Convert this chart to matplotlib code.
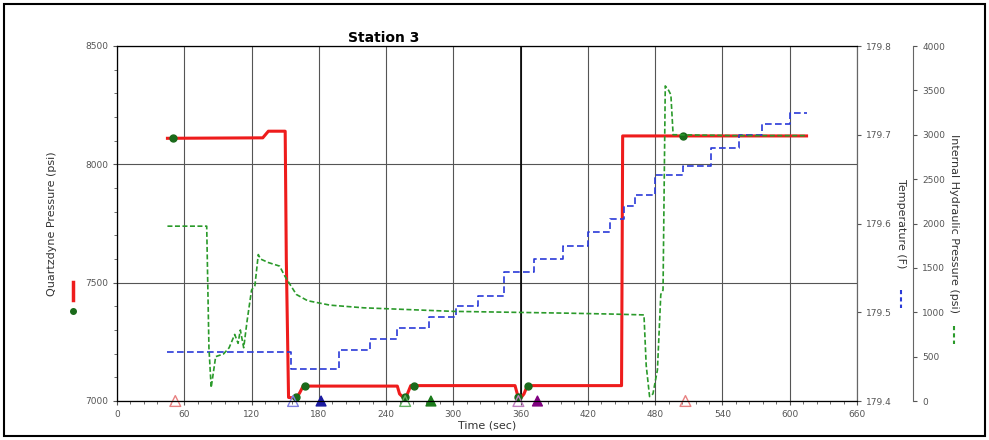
import matplotlib
matplotlib.use("Agg")
import matplotlib.pyplot as plt
from matplotlib.lines import Line2D
from matplotlib.patches import Rectangle

# Quartzdyne pressure (psi)
q_t = [45, 130, 135, 150, 151, 153, 160, 163, 166, 250, 252, 256, 259, 262, 355, 357, 360, 363, 366, 450, 451, 615]
q_p = [8110, 8112, 8140, 8140, 7600, 7015, 7012, 7035, 7063, 7063, 7030, 7012, 7030, 7065, 7065, 7030, 7012, 7030, 7065, 7065, 8120, 8120]
dot_t = [50, 160, 168, 257, 265, 358, 367, 505]
dot_p = [8110, 7015, 7063, 7015, 7065, 7015, 7065, 8120]

# Internal hydraulic pressure (psi)
h_t = [45, 80, 82, 84, 88, 95, 100, 105, 108, 110, 113, 116, 120, 123, 126, 128, 135, 145, 150, 155, 160, 170, 190, 220, 260, 300, 350, 400, 440, 470, 472, 475, 478, 482, 485, 487, 489, 492, 494, 496, 500, 550, 615]
h_p = [1970, 1970, 600, 150, 500, 530, 600, 750, 650, 800, 600, 900, 1250, 1300, 1650, 1600, 1560, 1520, 1400, 1300, 1200, 1130, 1080, 1050, 1030, 1010, 1000, 990, 980, 970, 400, 50, 80, 350, 1200, 1250, 3550, 3500, 3450, 3000, 3000, 2990, 2990]

# Temperature (F)
t_t = [45, 155, 198, 226, 250, 278, 302, 322, 345, 372, 398, 420, 440, 452, 462, 480, 505, 530, 555, 575, 600, 615]
t_v = [179.455, 179.436, 179.457, 179.470, 179.482, 179.495, 179.507, 179.518, 179.545, 179.560, 179.575, 179.590, 179.605, 179.620, 179.632, 179.655, 179.665, 179.685, 179.700, 179.712, 179.725, 179.725]

# event markers
open_t = [52, 157, 257, 358, 507]
open_c = ['#e88080', '#8080e0', '#60b060', '#c080c0', '#e88080']
fill_t = [182, 280, 375]
fill_c = ['#1a1aa0', '#1a7a1a', '#800080']

fig = plt.figure(figsize=(9.89, 4.40), dpi=100)
fig.patches.append(Rectangle((0.004, 0.01), 0.992, 0.98, transform=fig.transFigure,
                             fill=False, ec='black', lw=1.5))
ax = fig.add_axes([117/989, 1-401/440, 740/989, 355/440])
ax.set_xlim(0, 660)
ax.set_ylim(7000, 8500)
ax.set_xticks(range(0, 661, 60))
ax.set_xticks(range(0, 661, 12), minor=True)
ax.set_yticks([7000, 7500, 8000, 8500])
ax.set_yticks(range(7000, 8501, 100), minor=True)
ax.grid(True, which='major', color='#555555', lw=0.8)
ax.axvline(360, color='black', lw=1.2)
ax.tick_params(labelsize=6.5, colors='#555555', length=3)
ax.tick_params(which='minor', length=2, colors='#555555')
for s in ax.spines.values():
    s.set_color('#666666')
ax.set_xlabel('Time (sec)', fontsize=8, color='#333333', labelpad=1)
ax.set_ylabel('Quartzdyne Pressure (psi)', fontsize=8, color='#333333', labelpad=20)
ax.set_title('Station 3', fontsize=10, fontweight='bold', x=0.36, pad=3)

ax_t = ax.twinx()
ax_t.set_ylim(179.4, 179.8)
ax_t.set_yticks([179.4, 179.5, 179.6, 179.7, 179.8])
ax_t.tick_params(labelsize=6.5, colors='#555555', length=3)
ax_t.spines['right'].set_color('#666666')
ax_t.set_ylabel('Temperature (F)', fontsize=8, color='#333333', rotation=270, labelpad=10)

ax_h = ax.twinx()
ax_h.spines['right'].set_position(('axes', 1.076))
ax_h.set_ylim(0, 4000)
ax_h.set_yticks(range(0, 4001, 500))
ax_h.tick_params(labelsize=6.5, colors='#555555', length=3)
ax_h.spines['right'].set_color('#666666')
ax_h.set_ylabel('Internal Hydraulic Pressure (psi)', fontsize=8, color='#333333', rotation=270, labelpad=10)

ax_h.plot(h_t, h_p, color='#2a9a2a', lw=1.2, ls=(0, (3, 1.5)))
ax_t.step(t_t, t_v, where='post', color='#2a3ad8', lw=1.2, ls=(0, (4, 2)))
ax.plot(q_t, q_p, color='#ee1c1c', lw=2.2, zorder=5)
ax.plot(dot_t, dot_p, 'o', color='#1a6a1a', ms=5, zorder=6)
ax.scatter(open_t, [7000]*len(open_t), marker='^', s=60, facecolors='none',
           edgecolors=open_c, clip_on=False, zorder=7)
ax.scatter(fill_t, [7000]*len(fill_t), marker='^', s=50, c=fill_c, clip_on=False, zorder=7)

# legend symbols
fig.lines.append(Line2D([73/989]*2, [1-282/440, 1-300/440], color='#ee1c1c', lw=2.5, transform=fig.transFigure))
fig.lines.append(Line2D([73/989], [1-311/440], marker='o', color='#1a6a1a', ms=4, transform=fig.transFigure))
fig.lines.append(Line2D([901/989]*2, [1-290/440, 1-308/440], color='#2a3ad8', lw=1.5, ls=(0, (2, 1.5)), transform=fig.transFigure))
fig.lines.append(Line2D([954/989]*2, [1-326/440, 1-344/440], color='#2a9a2a', lw=1.5, ls=(0, (2, 1.5)), transform=fig.transFigure))

fig.savefig('out.png', dpi=100)
